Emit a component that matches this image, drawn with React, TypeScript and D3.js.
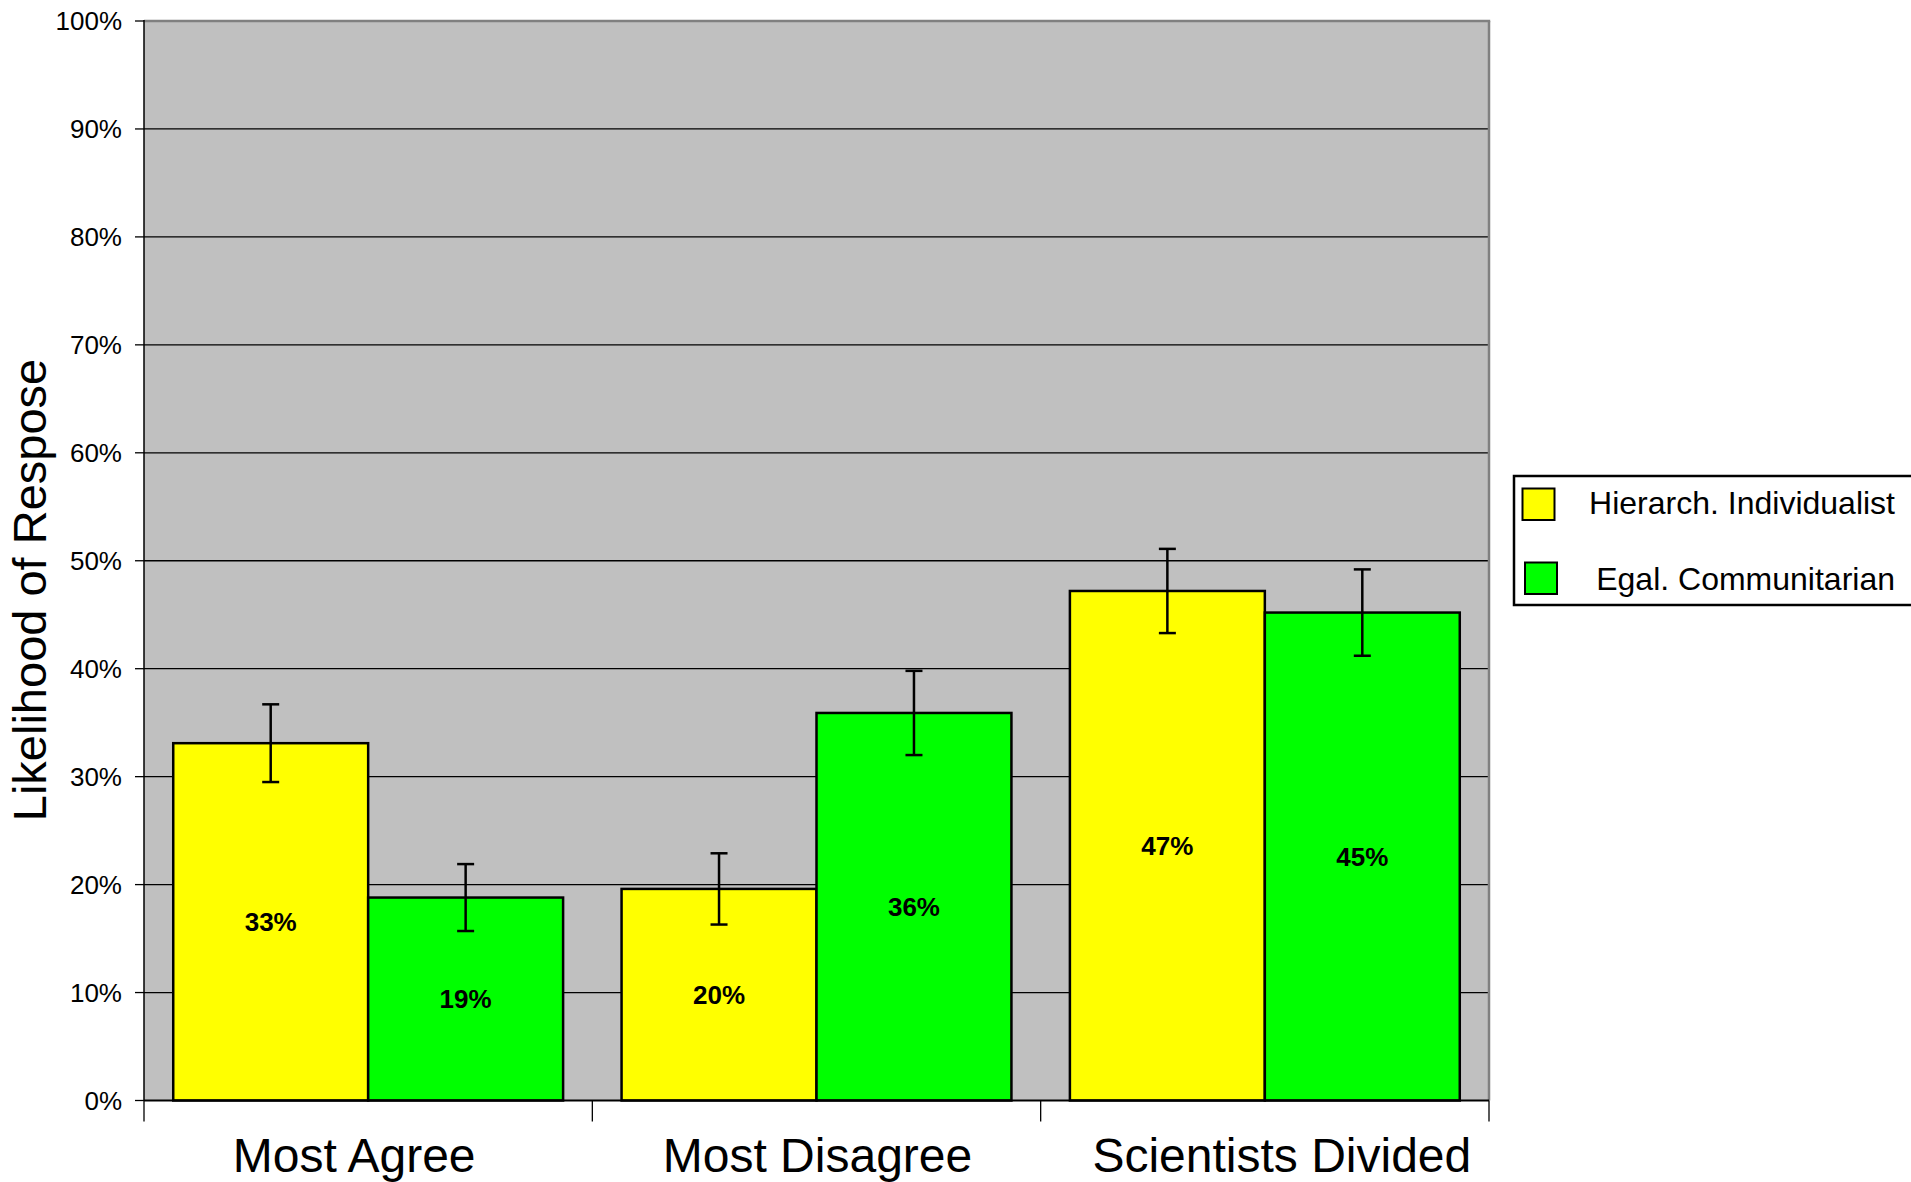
import React from "react";
import * as d3 from "d3";

const categories = ["Most Agree", "Most Disagree", "Scientists Divided"];
const seriesNames = ["Hierarch. Individualist", "Egal. Communitarian"];
const seriesColors = ["#FFFF00", "#00FF00"];
const hierValues = [33.1, 19.6, 47.2];
const egalValues = [18.8, 35.9, 45.2];
const hierErrors = [3.6, 3.3, 3.9];
const egalErrors = [3.1, 3.9, 4.0];
const yTicks = [0, 10, 20, 30, 40, 50, 60, 70, 80, 90, 100];
const yTitle = "Likelihood of Respose";

const W = 1911;
const H = 1182;
const FONT = "'Liberation Sans', Arial, sans-serif";

export default function App() {
  const left = 144;
  const right = 1489;
  const top = 21;
  const bottom = 1100.5;

  const x0 = d3.scaleBand<string>().domain(categories).range([left, right]).padding(0);
  const bw = x0.bandwidth();
  const pad = bw * 0.0652;
  const x1 = d3.scaleBand<string>().domain(seriesNames).range([pad, bw - pad]).padding(0);
  const y = d3.scaleLinear().domain([0, 100]).range([bottom, top]);

  const values = [hierValues, egalValues];
  const errors = [hierErrors, egalErrors];
  const labelShift = [-14, 1, 17];

  const bars: any[] = [];
  categories.forEach((c, ci) => {
    seriesNames.forEach((s, si) => {
      bars.push({
        c,
        s,
        si,
        v: values[si][ci],
        e: errors[si][ci],
        x: (x0(c) as number) + (x1(s) as number),
        w: x1.bandwidth(),
      });
    });
  });

  return (
    <svg
      width={W}
      height={H}
      style={{ position: "absolute", left: 0, top: 0, background: "#fff" }}
      fontFamily={FONT}
    >
      <rect x={0} y={0} width={W} height={H} fill="#fff" />
      {/* plot background */}
      <rect x={left} y={top} width={right - left} height={bottom - top} fill="#C0C0C0" />
      {/* gridlines */}
      {yTicks
        .filter((t) => t > 0 && t < 100)
        .map((t) => (
          <line key={"g" + t} x1={left} x2={right} y1={y(t)} y2={y(t)} stroke="#000" strokeWidth={1.3} />
        ))}
      {/* top & right frame */}
      <line x1={left} x2={right + 1.2} y1={top} y2={top} stroke="#808080" strokeWidth={2.5} />
      <line x1={right} x2={right} y1={top} y2={bottom} stroke="#808080" strokeWidth={2.5} />
      {/* bars */}
      {bars.map((b, i) => (
        <rect
          key={"b" + i}
          x={b.x}
          y={y(b.v)}
          width={b.w}
          height={bottom - y(b.v)}
          fill={seriesColors[b.si]}
          stroke="#000"
          strokeWidth={2.5}
        />
      ))}
      {/* error bars */}
      {bars.map((b, i) => {
        const cx = b.x + b.w / 2;
        return (
          <g key={"e" + i} stroke="#000" strokeWidth={2.5}>
            <line x1={cx} x2={cx} y1={y(b.v + b.e)} y2={y(b.v - b.e)} />
            <line x1={cx - 8.5} x2={cx + 8.5} y1={y(b.v + b.e)} y2={y(b.v + b.e)} />
            <line x1={cx - 8.5} x2={cx + 8.5} y1={y(b.v - b.e)} y2={y(b.v - b.e)} />
          </g>
        );
      })}
      {/* value labels */}
      {bars.map((b, i) => (
        <text
          key={"v" + i}
          x={b.x + b.w / 2}
          y={(y(b.v) + bottom) / 2}
          textAnchor="middle"
          dominantBaseline="central"
          fontWeight="bold"
          fontSize={26}
          fill="#000"
        >
          {Math.round(b.v) + "%"}
        </text>
      ))}
      {/* y axis */}
      <line x1={left} x2={left} y1={top - 1} y2={bottom} stroke="#000" strokeWidth={1.5} />
      {yTicks.map((t) => (
        <g key={"t" + t}>
          <line x1={left - 9} x2={left} y1={y(t)} y2={y(t)} stroke="#000" strokeWidth={1.3} />
          <text
            x={left - 22}
            y={y(t)}
            textAnchor="end"
            dominantBaseline="central"
            fontSize={26}
            fill="#000"
          >
            {t + "%"}
          </text>
        </g>
      ))}
      {/* x axis */}
      <line x1={left} x2={right} y1={bottom} y2={bottom} stroke="#000" strokeWidth={2} />
      {[...categories.map((c) => x0(c) as number), right].map((xx, i) => (
        <line key={"xt" + i} x1={xx} x2={xx} y1={bottom} y2={bottom + 21} stroke="#000" strokeWidth={1.3} />
      ))}
      {categories.map((c, i) => (
        <text
          key={"c" + c}
          x={(x0(c) as number) + bw / 2 + labelShift[i]}
          y={1172}
          textAnchor="middle"
          fontSize={48}
          fill="#000"
        >
          {c}
        </text>
      ))}
      {/* y title */}
      <text
        transform={`translate(46, 590) rotate(-90)`}
        textAnchor="middle"
        fontSize={47}
        fill="#000"
      >
        {yTitle}
      </text>
      {/* legend */}
      <rect x={1514} y={476} width={420} height={129} fill="#fff" stroke="#000" strokeWidth={2.5} />
      {seriesNames.map((s, i) => {
        const sy = i === 0 ? 488.5 : 562.5;
        const sx = i === 0 ? 1522.5 : 1525;
        const ty = i === 0 ? 513.5 : 590;
        return (
          <g key={"l" + s}>
            <rect x={sx} y={sy} width={32} height={31.5} fill={seriesColors[i]} stroke="#000" strokeWidth={2} />
            <text x={1895} y={ty} textAnchor="end" fontSize={32} fill="#000">
              {s}
            </text>
          </g>
        );
      })}
    </svg>
  );
}
